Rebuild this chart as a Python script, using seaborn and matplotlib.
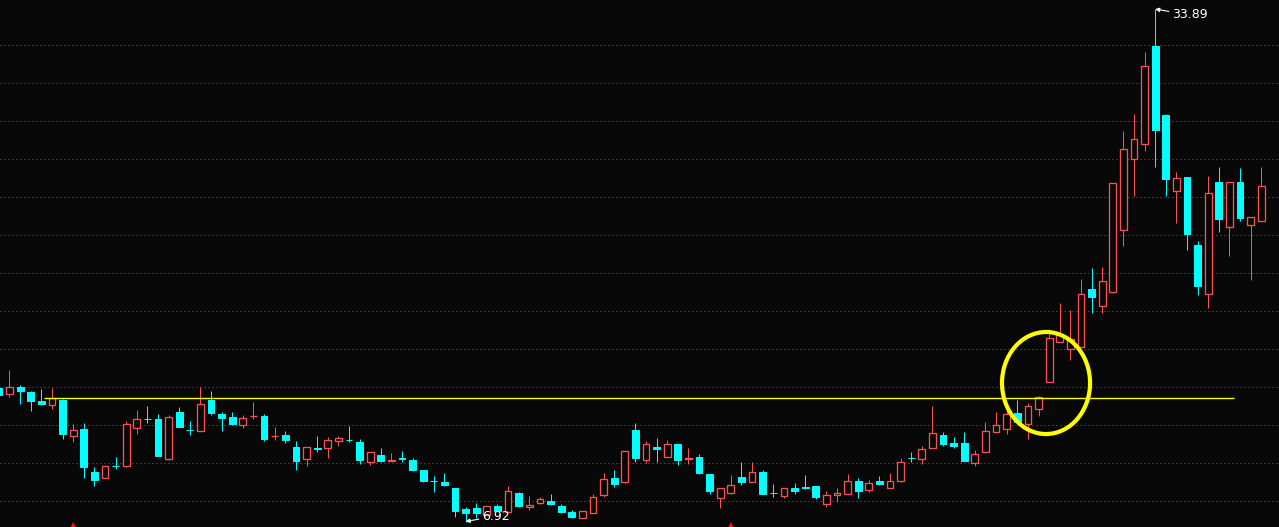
import numpy as np
import pandas as pd
import seaborn as sns

import matplotlib
matplotlib.use('Agg')
from matplotlib import pyplot as plt
from matplotlib.patches import Ellipse
from matplotlib import transforms

# daily OHLC (120 sessions)
opens = [13.95, 13.65, 13.98, 13.74, 13.26, 13.04, 13.32, 11.44, 11.79, 9.53,
         9.19, 9.84, 9.86, 11.86, 12.31, 12.32, 10.23, 12.68, 11.74, 11.67,
         13.30, 12.58, 12.42, 12.02, 12.45, 12.47, 11.40, 11.47, 10.84, 10.23,
         10.78, 10.81, 11.17, 11.22, 11.11, 10.07, 10.42, 10.09, 10.24, 10.16,
         9.63, 9.06, 9.00, 8.68, 7.59, 7.63, 7.25, 7.74, 7.44, 8.42,
         7.70, 7.91, 8.00, 7.74, 7.42, 7.12, 7.38, 8.32, 9.21, 9.00,
         11.74, 10.16, 10.84, 10.33, 11.00, 10.23, 10.32, 9.42, 8.16, 8.42,
         9.26, 9.00, 9.53, 8.43, 8.26, 8.68, 8.73, 8.79, 7.86, 8.30,
         8.38, 9.05, 8.59, 9.05, 8.70, 9.07, 10.27, 10.23, 10.81, 11.47,
         11.05, 11.05, 10.02, 10.59, 11.63, 11.81, 12.63, 12.07, 12.86, 14.28,
         16.38, 15.98, 16.09, 19.16, 18.25, 19.02, 22.25, 26.02, 26.77, 31.95,
         28.32, 24.33, 25.05, 21.47, 18.91, 24.79, 22.44, 24.79, 22.54, 22.75]
highs = [14.00, 14.89, 14.11, 13.79, 13.89, 13.95, 13.35, 12.05, 12.11, 9.79,
         9.83, 10.32, 12.21, 12.79, 13.00, 12.58, 12.53, 12.95, 12.21, 13.98,
         13.79, 12.68, 12.68, 12.53, 13.21, 12.58, 11.89, 11.68, 11.16, 10.84,
         11.42, 11.37, 11.42, 11.95, 11.26, 10.58, 10.79, 10.53, 10.63, 10.26,
         9.63, 9.32, 9.47, 8.68, 7.68, 7.89, 7.74, 7.84, 8.79, 8.47,
         8.26, 8.21, 8.37, 7.84, 7.51, 7.47, 8.37, 9.47, 9.63, 10.63,
         12.11, 11.16, 11.32, 11.21, 11.00, 10.79, 10.47, 9.42, 8.68, 9.37,
         10.05, 10.05, 9.63, 8.89, 8.68, 8.95, 9.37, 8.79, 8.53, 8.68,
         9.42, 9.21, 9.11, 9.32, 9.47, 10.26, 10.58, 10.89, 13.00, 11.63,
         11.37, 11.63, 10.68, 12.16, 12.68, 12.95, 13.32, 13.16, 13.54, 17.05,
         18.42, 18.05, 19.68, 20.26, 20.32, 24.74, 27.47, 28.37, 31.63, 33.89,
         28.37, 25.32, 25.05, 21.68, 25.12, 25.58, 24.79, 25.53, 22.93, 25.58]
lows = [13.50, 13.49, 13.12, 12.75, 13.07, 12.86, 11.28, 11.12, 9.23, 8.81,
        9.19, 9.70, 9.81, 11.54, 12.12, 10.38, 10.17, 11.91, 11.49, 11.67,
        12.54, 11.70, 12.00, 11.86, 12.33, 11.17, 11.23, 11.07, 9.65, 9.86,
        10.59, 10.28, 10.91, 11.12, 9.96, 9.91, 10.05, 10.08, 10.07, 9.59,
        9.02, 8.49, 8.79, 7.16, 6.92, 7.10, 7.25, 7.47, 7.44, 7.68,
        7.53, 7.86, 7.79, 7.38, 7.10, 7.12, 7.38, 8.21, 8.74, 8.97,
        10.05, 10.00, 10.05, 10.33, 9.89, 9.95, 9.42, 8.37, 7.63, 8.37,
        8.84, 9.00, 8.37, 8.21, 8.16, 8.37, 8.63, 8.10, 7.68, 7.95,
        8.38, 8.17, 8.49, 8.84, 8.70, 9.02, 10.07, 9.96, 10.81, 10.89,
        10.79, 10.11, 9.84, 10.59, 11.58, 11.53, 12.10, 11.28, 12.49, 14.28,
        16.38, 15.44, 16.09, 17.91, 17.88, 18.96, 21.44, 24.07, 26.43, 25.60,
        24.07, 22.65, 21.23, 18.86, 18.17, 22.17, 20.91, 22.75, 19.65, 22.75]
closes = [13.60, 13.98, 13.80, 13.28, 13.12, 13.41, 11.54, 11.72, 9.81, 9.12,
          9.83, 9.82, 12.04, 12.30, 12.29, 10.38, 12.41, 11.91, 11.73, 13.09,
          12.65, 12.38, 12.07, 12.35, 12.46, 11.28, 11.41, 11.23, 10.12, 10.84,
          10.76, 11.21, 11.30, 11.20, 10.17, 10.58, 10.11, 10.16, 10.21, 9.65,
          9.07, 9.04, 8.84, 7.49, 7.38, 7.38, 7.74, 7.47, 8.53, 7.74,
          7.79, 8.11, 7.84, 7.44, 7.16, 7.47, 8.21, 9.16, 8.89, 10.63,
          10.26, 11.00, 10.74, 11.00, 10.16, 10.26, 9.47, 8.53, 8.68, 8.84,
          9.00, 9.53, 8.37, 8.41, 8.68, 8.53, 8.71, 8.21, 8.32, 8.42,
          9.05, 8.53, 8.95, 8.89, 9.05, 10.05, 10.25, 10.74, 11.58, 11.00,
          10.89, 10.11, 10.47, 11.68, 12.00, 12.58, 12.17, 12.98, 13.46, 16.56,
          16.74, 16.51, 18.88, 18.75, 19.56, 24.74, 26.53, 27.05, 30.89, 27.54,
          24.96, 24.98, 22.07, 19.33, 24.21, 22.86, 24.79, 22.91, 22.93, 24.56]

grid_levels = [8, 10, 12, 14, 16, 18, 20, 22, 24, 26, 28, 30, 32]
support_level = 13.42
signal_days = [7, 69]
peak_text = "33.89"
trough_text = "6.92"

BG = "#080808"
UP = "#FA5252"
DOWN = "#00FFFF"
YELLOW = "#FFFF00"
PX = 0.72  # one pixel in points at dpi 100

df = pd.DataFrame({"open": opens, "high": highs, "low": lows, "close": closes})
df["day"] = np.arange(len(df))
df["up"] = df["close"] >= df["open"]
df["top"] = df[["open", "close"]].max(axis=1)
df["bot"] = df[["open", "close"]].min(axis=1)

sns.set_theme(style="dark", rc={"axes.facecolor": BG, "figure.facecolor": BG})
plt.rcParams['font.family'] = ['DejaVu Sans']

fig = plt.figure(figsize=(12.79, 5.27), dpi=100)
ax = fig.add_axes([0, 0, 1, 1])
ax.set_facecolor(BG)
ax.set_xlim(0.1045, 120.67)
ax.set_ylim(6.632, 34.368)
for s in ax.spines.values():
    s.set_visible(False)
ax.set_xticks([])
ax.set_yticks([])

# dotted price grid
for lv in grid_levels:
    ax.axhline(lv, color="#6a6a6a", lw=PX, ls=(0, (1, 3)), zorder=0)

w = 0.64
up = df[df["up"]]
dn = df[~df["up"]]

# wicks: hollow candles must not show the wick inside the body
ax.vlines(up["day"], up["top"], up["high"], color=UP, lw=PX, zorder=2)
ax.vlines(up["day"], up["low"], up["bot"], color=UP, lw=PX, zorder=2)
ax.vlines(dn["day"], dn["low"], dn["high"], color=DOWN, lw=PX, zorder=2)

ax.bar(up["day"], up["top"] - up["bot"], bottom=up["bot"], width=w,
       facecolor=BG, edgecolor=UP, lw=PX * 1.3, zorder=3)
ax.bar(dn["day"], dn["top"] - dn["bot"], bottom=dn["bot"], width=w,
       facecolor=DOWN, edgecolor=DOWN, lw=PX, zorder=3)

# breakout line and highlight circle
ax.hlines(support_level, 4.25, 116.4, color=YELLOW, lw=1.0, zorder=4)
ax.add_patch(Ellipse((98.71, 14.21), 8.3, 5.37, fill=False,
                     edgecolor=YELLOW, lw=3.0, zorder=5))

# high / low labels
pk = df["high"].idxmax()
tr = df["low"].idxmin()
ax.annotate(peak_text, xy=(pk, df["high"][pk]), xytext=(pk + 1.6, 33.58),
            color="white", fontsize=9, ha="left", va="center",
            arrowprops=dict(arrowstyle="-|>", color="white", lw=0.8,
                            mutation_scale=6, shrinkA=0, shrinkB=0))
ax.annotate(trough_text, xy=(tr, df["low"][tr]), xytext=(tr + 1.55, 7.21),
            color="white", fontsize=9, ha="left", va="center",
            arrowprops=dict(arrowstyle="-|>", color="white", lw=0.8,
                            mutation_scale=6, shrinkA=0, shrinkB=0))

# signal markers along the bottom edge
trans = transforms.blended_transform_factory(ax.transData, ax.transAxes)
sig = pd.DataFrame({"day": signal_days, "y": [0.003] * len(signal_days)})
sns.scatterplot(data=sig, x="day", y="y", marker="^", s=24, color="#FF1010",
                edgecolor="none", ax=ax, transform=trans, zorder=6, clip_on=False)
ax.set_xlabel("")
ax.set_ylabel("")

fig.savefig("out.png", dpi=100, facecolor=BG)
